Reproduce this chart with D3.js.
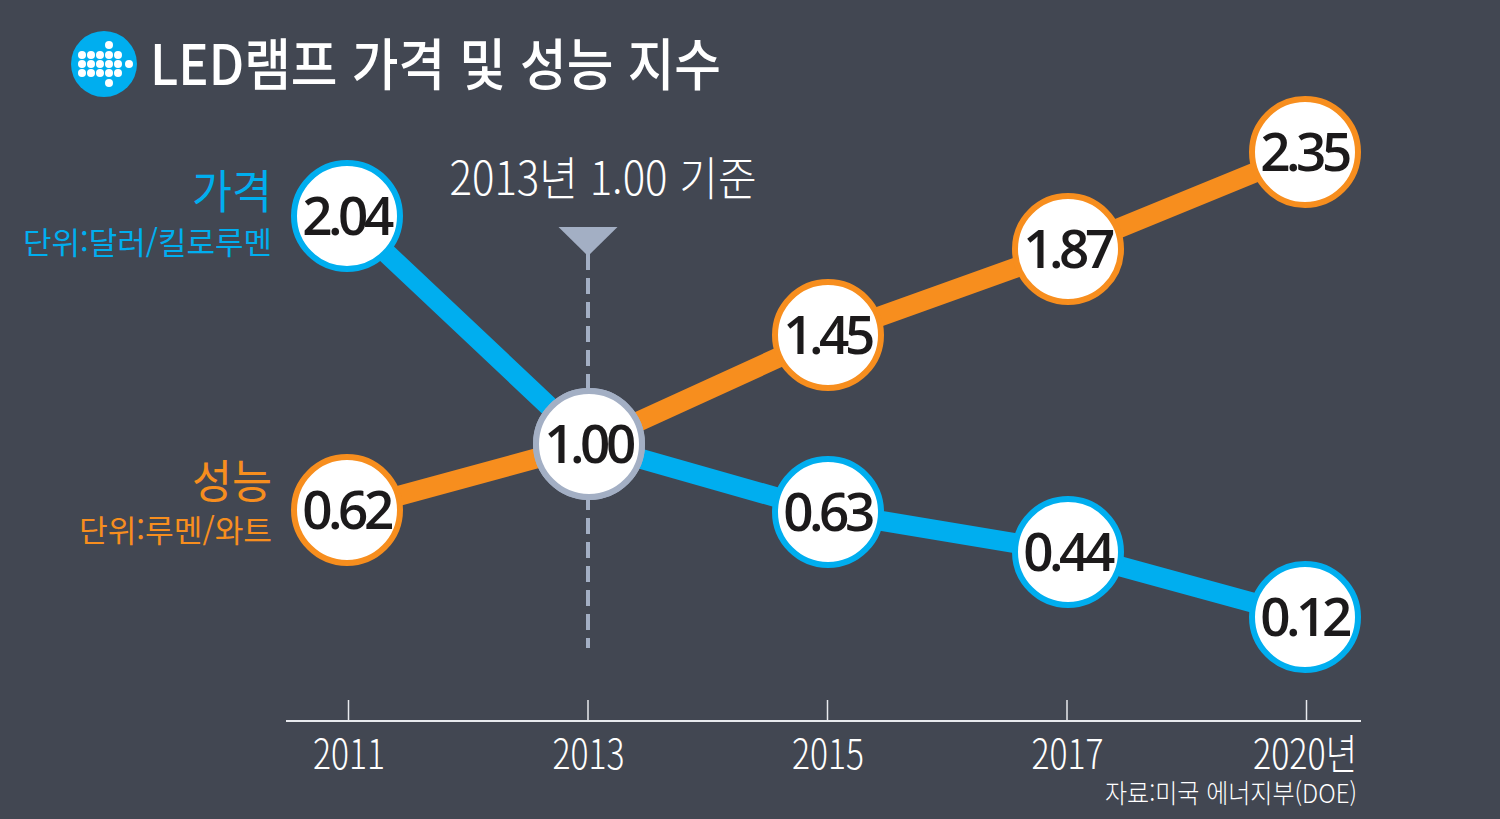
<!DOCTYPE html>
<html lang="ko">
<head>
<meta charset="utf-8">
<script src="https://cdn.jsdelivr.net/npm/d3@7"></script>
<style>
  html, body { margin: 0; padding: 0; background: #424752; overflow: hidden; }
  svg { display: block; }
  text { font-family: "Noto Sans CJK KR", sans-serif; }
</style>
</head>
<body>
<svg id="chart" width="1500" height="819"></svg>
<script>
// Data
const years = ['2011', '2013', '2015', '2017', '2020'];
const yearLabels = ['2011', '2013', '2015', '2017', '2020년'];
const price = [2.04, 1.00, 0.63, 0.44, 0.12];
const performance = [0.62, 1.00, 1.45, 1.87, 2.35];

const title = 'LED램프 가격 및 성능 지수';
const baseLabel = '2013년 1.00 기준';
const source = '자료:미국 에너지부(DOE)';

const BLUE = '#00aeef';
const ORANGE = '#f78e1e';
const GREY = '#a3afc4';

const svg = d3.select('#chart');

// ticks are evenly spaced, the bubbles sit a little off them in the original
const xAxisScale = d3.scalePoint().domain(years).range([348, 1306]);
const x = d3.scaleOrdinal().domain(years).range([347, 589, 828, 1068, 1305]);

// the original isn't drawn to a linear axis and each series has its own unit
const yPrice = d3.scaleLinear()
  .domain([0.12, 0.44, 0.63, 1, 2.04])
  .range([617, 552, 512, 444, 216]);
const yPerf = d3.scaleLinear()
  .domain([0.62, 1, 1.45, 1.87, 2.35])
  .range([510, 444, 335, 249, 152]);

// Squeeze a text to the width it has in the picture
function label(str, px, py, size, width, color, anchor = 'start', weight = 400) {
  return svg.append('text')
    .attr('x', px)
    .attr('y', py)
    .attr('font-size', size)
    .attr('font-weight', weight)
    .attr('fill', color)
    .attr('text-anchor', anchor)
    .attr('textLength', width)
    .attr('lengthAdjust', 'spacingAndGlyphs')
    .text(str);
}

// Logo
const logo = svg.append('g').attr('transform', 'translate(104,64)');
logo.append('circle').attr('r', 33).attr('fill', BLUE);
d3.range(-1, 2).forEach(r => {
  d3.range(-2, 3).forEach(c => {
    logo.append('circle').attr('cx', c * 9 - 4).attr('cy', r * 9).attr('r', 4).attr('fill', '#fff');
  });
});
[[25, 0], [5, -19], [5, 19]].forEach(d => {
  logo.append('circle').attr('cx', d[0]).attr('cy', d[1]).attr('r', 4).attr('fill', '#fff');
});

label(title, 150, 85, 56, 571, '#fff', 'start', 500);

// Series labels
label('가격', 272, 208, 46, 80, BLUE, 'end', 400);
label('단위:달러/킬로루멘', 272, 254, 31, 249, BLUE, 'end', 400);
label('성능', 272, 498, 46, 80, ORANGE, 'end', 400);
label('단위:루멘/와트', 272, 542, 31, 193, ORANGE, 'end', 400);

// Base year marker
const baseX = xAxisScale('2013');
label(baseLabel, 603, 195, 46, 307, '#fff', 'middle', 300);
svg.append('path')
  .attr('d', d3.line()([[baseX - 29, 227], [baseX + 30, 227], [baseX + 0.5, 256]]))
  .attr('fill', GREY);
svg.append('line')
  .attr('x1', baseX + 0.5).attr('x2', baseX + 0.5)
  .attr('y1', 254).attr('y2', 648)
  .attr('stroke', GREY)
  .attr('stroke-width', 4)
  .attr('stroke-dasharray', '16 8');

// Axis
const axis = d3.axisTop(xAxisScale).tickSize(21).tickPadding(0).tickFormat('');
const axisG = svg.append('g').attr('transform', 'translate(0,721)').call(axis);
axisG.select('.domain').remove();
axisG.selectAll('line').attr('stroke', '#e8eaee').attr('stroke-width', 1.5);
svg.append('line')
  .attr('x1', 286).attr('x2', 1361)
  .attr('y1', 721).attr('y2', 721)
  .attr('stroke', '#e8eaee').attr('stroke-width', 2);

years.forEach((yr, i) => {
  const last = i === years.length - 1;
  label(yearLabels[i], last ? 1357 : xAxisScale(yr) + 1, 769, 41, last ? 104 : 72, '#fff', last ? 'end' : 'middle', 300);
});
label(source, 1357, 803, 26, 252, '#fff', 'end', 300);

// Lines
svg.append('path').datum(price)
  .attr('d', d3.line().x((d, i) => x(years[i])).y(d => yPrice(d)))
  .attr('fill', 'none').attr('stroke', BLUE).attr('stroke-width', 20);
svg.append('path').datum(performance)
  .attr('d', d3.line().x((d, i) => x(years[i])).y(d => yPerf(d)))
  .attr('fill', 'none').attr('stroke', ORANGE).attr('stroke-width', 20);

// Value bubbles
function bubbles(values, yScale, color) {
  values.forEach((v, i) => {
    const isBase = v === 1;
    const g = svg.append('g').attr('transform', `translate(${x(years[i])},${yScale(v)})`);
    g.append('circle')
      .attr('r', 53)
      .attr('fill', '#fff')
      .attr('stroke', isBase ? GREY : color)
      .attr('stroke-width', 6);
    g.append('text')
      .attr('text-anchor', 'middle')
      .attr('x', -1)
      .attr('y', 19)
      .attr('font-size', 53)
      .attr('font-weight', 600)
      .attr('fill', '#1c1a1b')
      .style('font-family', '"Open Sans", sans-serif')
      .style('letter-spacing', '-4.5px')
      .text(v.toFixed(2));
  });
}
bubbles(price, yPrice, BLUE);
bubbles(performance, yPerf, ORANGE);
</script>
</body>
</html>
